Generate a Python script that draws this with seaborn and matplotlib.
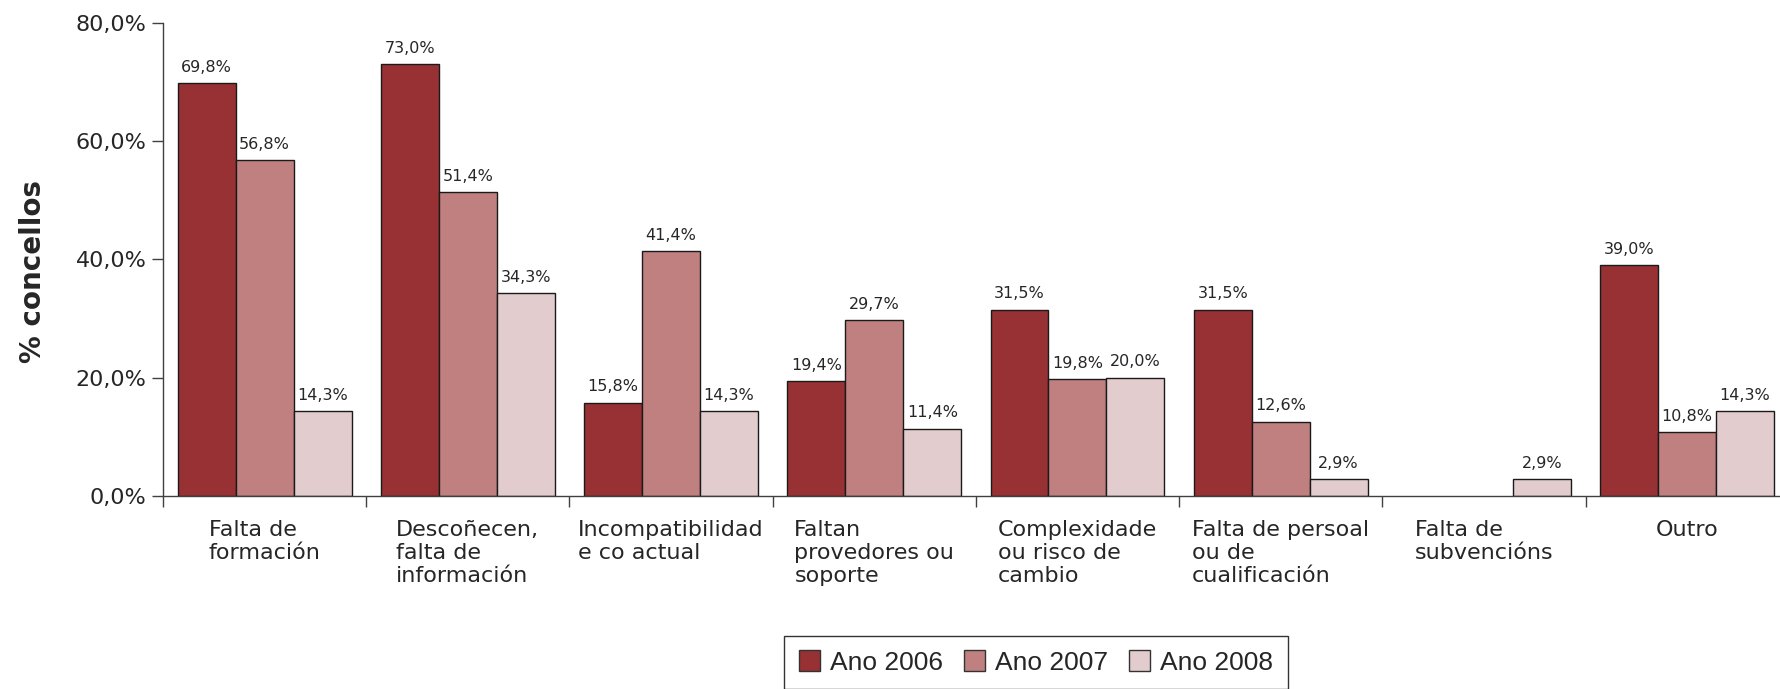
import numpy as np
import pandas as pd
import matplotlib
matplotlib.use('Agg')
import matplotlib.pyplot as plt
import seaborn as sns

categories = ['Falta de\nformación', 'Descoñecen,\nfalta de\ninformación',
              'Incompatibilidad\ne co actual', 'Faltan\nprovedores ou\nsoporte',
              'Complexidade\nou risco de\ncambio', 'Falta de persoal\nou de\ncualificación',
              'Falta de\nsubvencións', 'Outro']
years = ['Ano 2006', 'Ano 2007', 'Ano 2008']
ano_2006 = [69.8, 73.0, 15.8, 19.4, 31.5, 31.5, np.nan, 39.0]
ano_2007 = [56.8, 51.4, 41.4, 29.7, 19.8, 12.6, np.nan, 10.8]
ano_2008 = [14.3, 34.3, 14.3, 11.4, 20.0, 2.9, 2.9, 14.3]
colors = ['#983134', '#C08080', '#E3CCCD']

df = pd.DataFrame({
    'cat': categories * 3,
    'year': [y for y in years for _ in categories],
    'val': ano_2006 + ano_2007 + ano_2008,
})

sns.set_style('ticks')
plt.rcParams['font.family'] = ['DejaVu Sans']

fig = plt.figure(figsize=(17.8, 6.89), dpi=100)
ax = fig.add_axes([0.0916, 0.280, 0.9133, 0.687])

sns.barplot(data=df, x='cat', y='val', hue='year', order=categories, hue_order=years,
            palette=colors, saturation=1, width=0.856, edgecolor='#1a1a1a', linewidth=1,
            ax=ax, legend=False, errorbar=None)

# value labels with decimal comma
for cont in ax.containers:
    for bar in cont:
        if bar is None or np.isnan(bar.get_height()):
            continue
        v = bar.get_height()
        ax.annotate(f'{v:.1f}%'.replace('.', ','),
                    (bar.get_x() + bar.get_width() / 2, v),
                    xytext=(0, 6), textcoords='offset points',
                    ha='center', va='bottom', fontsize=11.5)

ax.set_ylim(0, 80)
ax.set_xlim(-0.5, 7.5)
ax.set_yticks([0, 20, 40, 60, 80])
ax.set_yticklabels([f'{t:.1f}%'.replace('.', ',') for t in [0, 20, 40, 60, 80]], fontsize=16)
ax.tick_params(axis='y', length=8, width=1, color='#404040', pad=4)

# category separators as major ticks, names as minor ticks
ax.set_xticks(np.arange(-0.5, 8, 1))
ax.set_xticklabels([''] * 9)
ax.set_xticks(np.arange(8), minor=True)
ax.set_xticklabels(categories, minor=True, fontsize=16, ha='center', multialignment='left')
ax.tick_params(axis='x', which='major', length=8, width=1, color='#404040')
ax.tick_params(axis='x', which='minor', length=0, pad=17)

ax.set_xlabel('')
ax.set_ylabel('% concellos', fontsize=20, fontweight='bold')
ax.yaxis.set_label_coords(-0.0712, 0.474)
for s in ['top', 'right']:
    ax.spines[s].set_visible(False)
for s in ['left', 'bottom']:
    ax.spines[s].set_color('#404040')
    ax.spines[s].set_linewidth(1)

handles = [plt.Rectangle((0, 0), 1, 1, facecolor=c, edgecolor='#333333', linewidth=1) for c in colors]
leg = fig.legend(handles, years, loc='upper center', bbox_to_anchor=(0.582, 0.077), ncol=3,
                 frameon=True, fancybox=False, edgecolor='#333333', framealpha=1,
                 prop={'family': 'Liberation Sans', 'size': 19},
                 handlelength=0.8, handleheight=0.8, handletextpad=0.38,
                 columnspacing=0.8, borderpad=0.55, borderaxespad=0)
leg.get_frame().set_linewidth(1)

fig.savefig('out.png', dpi=100)
